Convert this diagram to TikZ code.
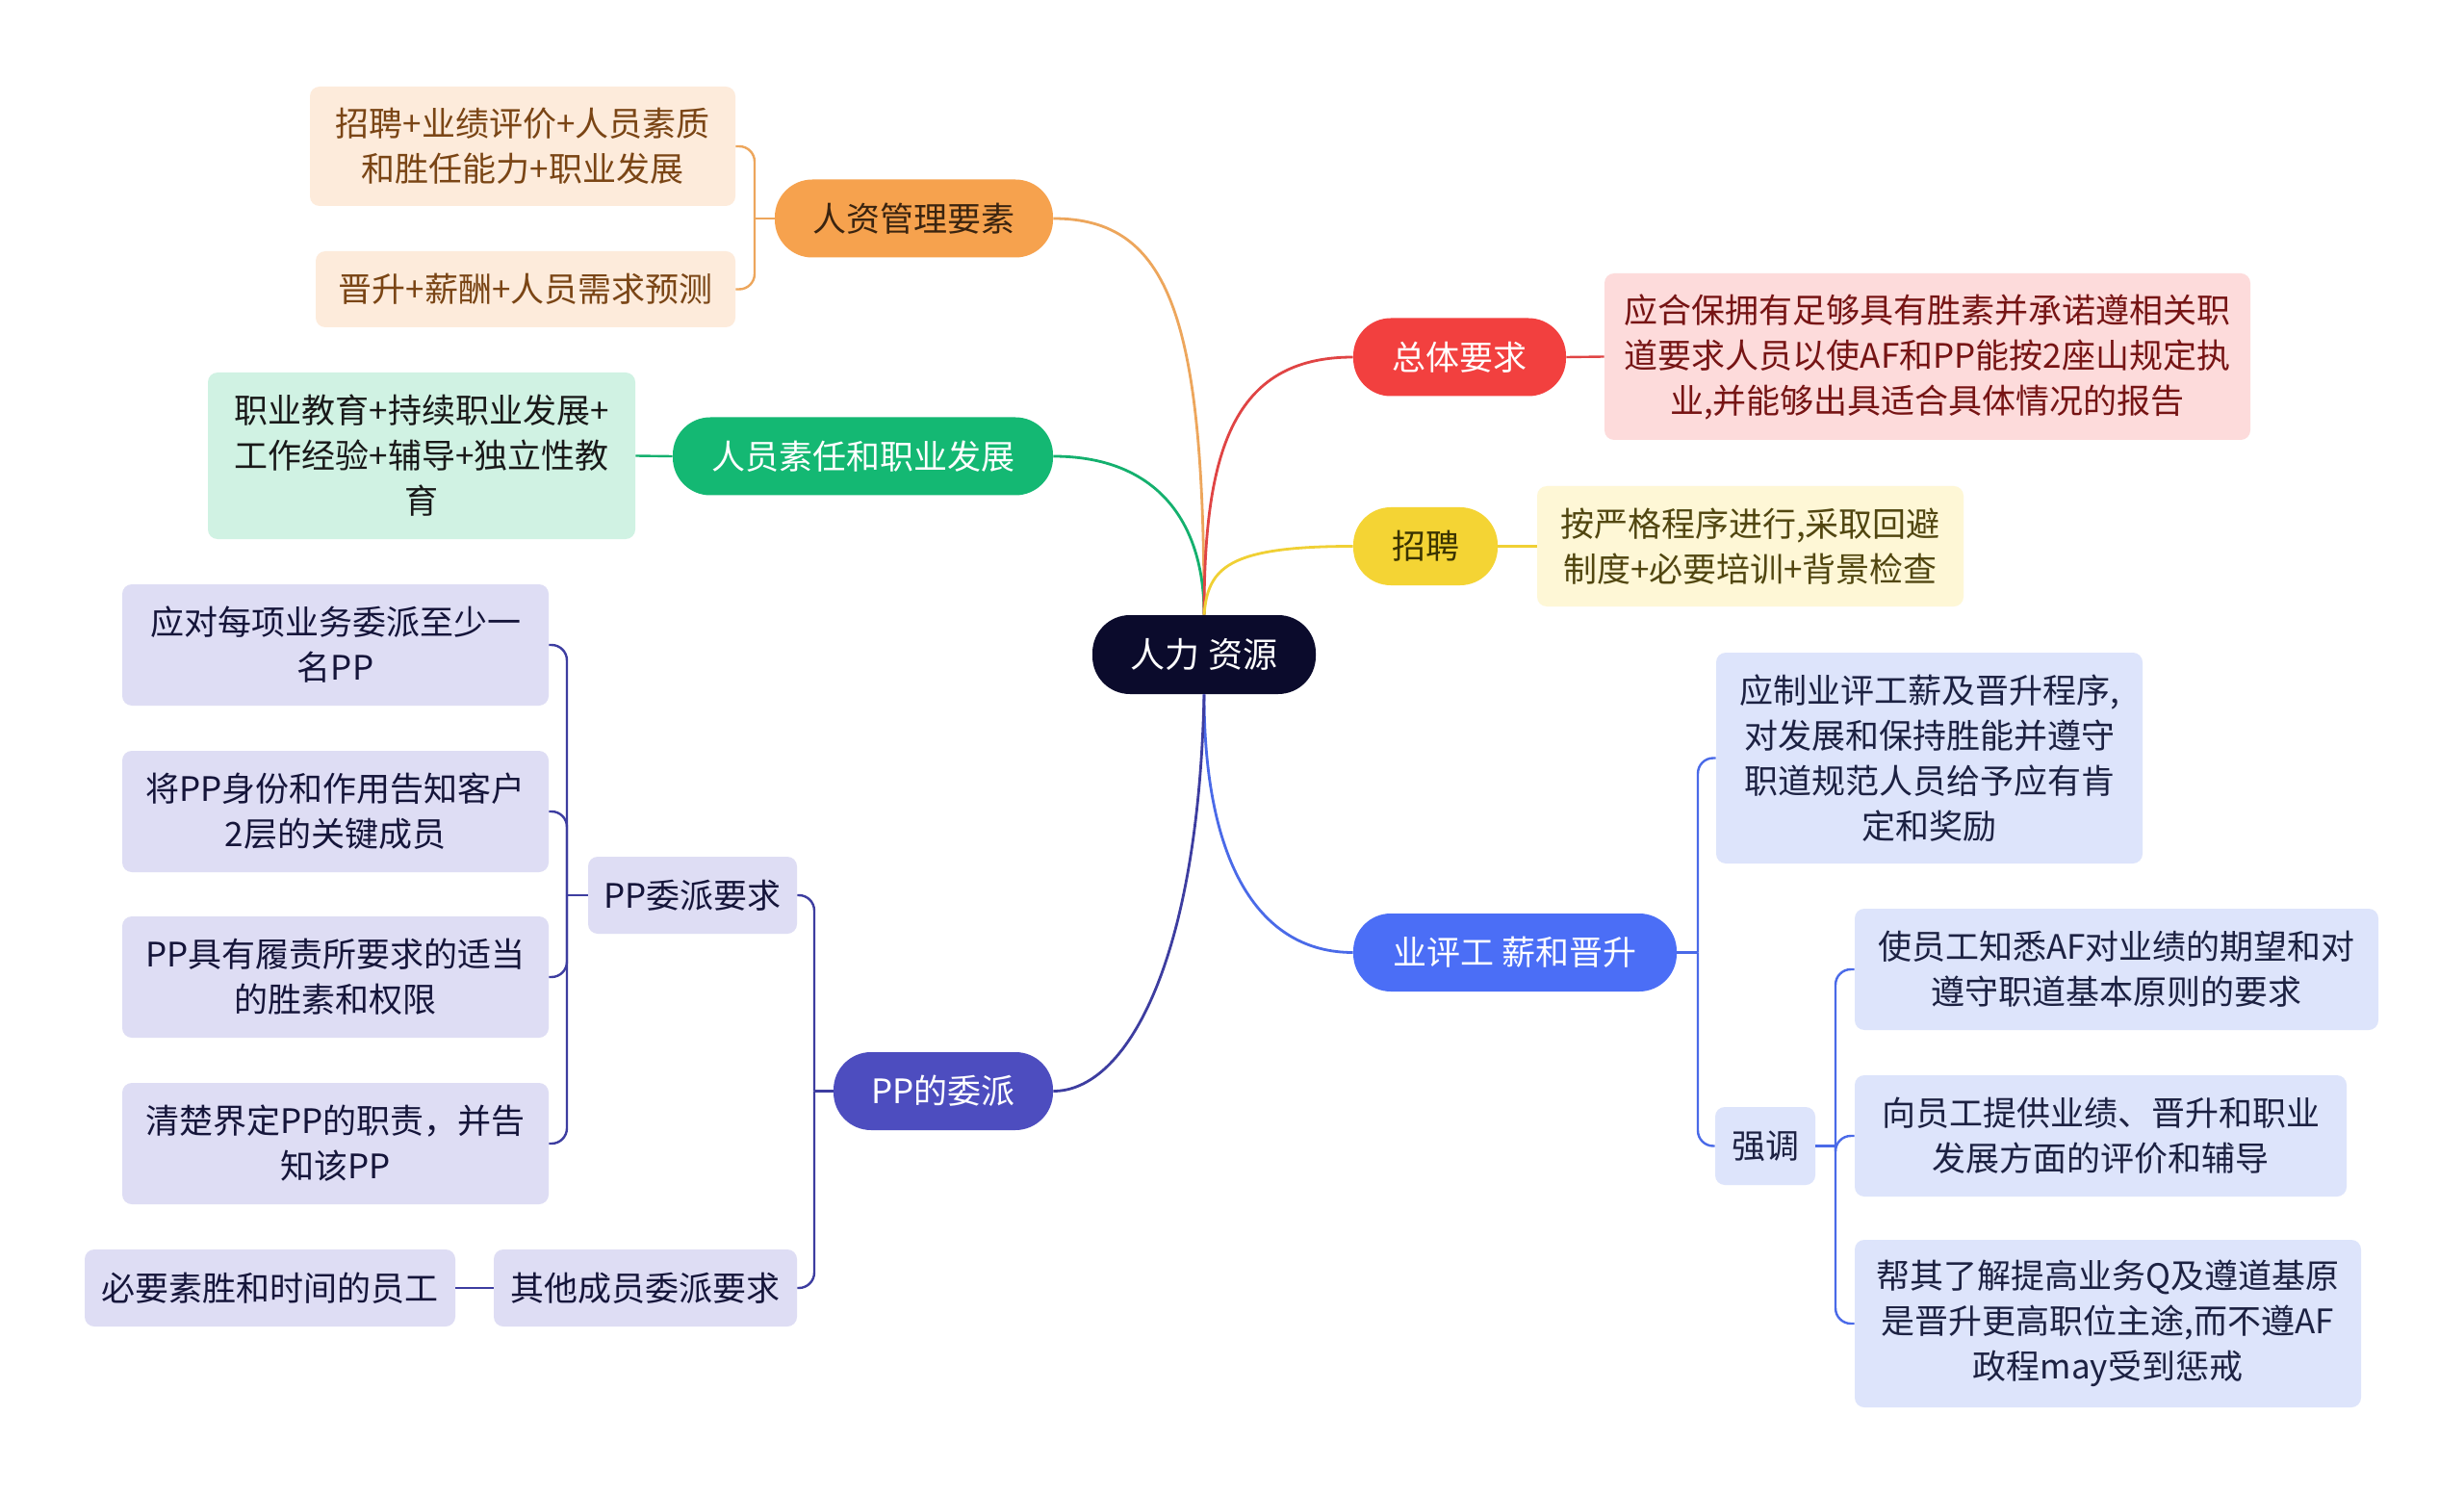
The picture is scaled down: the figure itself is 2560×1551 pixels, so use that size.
\documentclass[tikz,border=0pt]{standalone}
\usepackage{fontspec}
\setmainfont{Noto Sans CJK SC}
\definecolor{cnavy}{HTML}{0B0B2C}
\definecolor{corange}{HTML}{F6A24E}
\definecolor{corangeL}{HTML}{FDEBDB}
\definecolor{corangeLn}{HTML}{EDA65C}
\definecolor{cbrown}{HTML}{7A4515}
\definecolor{cbrownD}{HTML}{3A2410}
\definecolor{cgreen}{HTML}{14B873}
\definecolor{cgreenL}{HTML}{D0F2E3}
\definecolor{cgreenLn}{HTML}{14B06E}
\definecolor{cred}{HTML}{F2403F}
\definecolor{credL}{HTML}{FDDBDB}
\definecolor{credLn}{HTML}{E04444}
\definecolor{credT}{HTML}{761414}
\definecolor{cyel}{HTML}{F4D434}
\definecolor{cyelL}{HTML}{FEF7D6}
\definecolor{cyelLn}{HTML}{F0D034}
\definecolor{cyelT}{HTML}{3A3300}
\definecolor{cyelTL}{HTML}{514610}
\definecolor{cblue}{HTML}{4B6EF6}
\definecolor{cblueL}{HTML}{DDE4FB}
\definecolor{cblueLn}{HTML}{4A6AE8}
\definecolor{cblueT}{HTML}{1C2142}
\definecolor{cpur}{HTML}{4D4DBF}
\definecolor{cpurL}{HTML}{DEDDF4}
\definecolor{cpurLn}{HTML}{3D3DA0}
\definecolor{cpurT}{HTML}{15153A}
\begin{document}
\begin{tikzpicture}[x=0.5pt,y=-0.5pt,
  base/.style={font=\fontsize{17.5pt}{23.5pt}\selectfont, align=center, inner sep=0pt},
  pill/.style={base, rounded corners=19.5pt, minimum height=40.5pt},
  leaf/.style={base, rounded corners=5pt},
  curve/.style={line width=1.4pt},
  brk/.style={line width=1.2pt, rounded corners=8pt}]
\useasboundingbox[fill=white] (0,0) rectangle (2560,1551);

% centre
\node[pill, fill=cnavy, text=white, minimum width=116pt, minimum height=41pt, font=\fontsize{18pt}{23.5pt}\selectfont] (c) at (1251,680) {人力 资源};

% branches
\node[pill, fill=corange, text=cbrownD, minimum width=144.5pt] (hr) at (949.5,227) {人资管理要素};
\node[pill, fill=cgreen, text=white, minimum width=197.5pt] (comp) at (896.5,474) {人员素任和职业发展};
\node[pill, fill=cred, text=white, minimum width=110.5pt] (gen) at (1516.5,371) {总体要求};
\node[pill, fill=cyel, text=cyelT, minimum width=75pt] (rec) at (1481,567.5) {招聘};
\node[pill, fill=cblue, text=white, minimum width=168pt] (perf) at (1574,989.5) {业评工 薪和晋升};
\node[pill, fill=cpur, text=white, minimum width=114pt] (pp) at (980,1133.5) {PP的委派};

% orange leaves
\node[leaf, fill=corangeL, text=cbrown, minimum width=221pt, minimum height=62pt] (hr1) at (543,152) {招聘+业绩评价+人员素质\\和胜任能力+职业发展};
\node[leaf, fill=corangeL, text=cbrown, minimum width=218pt, minimum height=39.5pt] (hr2) at (546,300.5) {晋升+薪酬+人员需求预测};

% green leaf
\node[leaf, fill=cgreenL, text=black!90, minimum width=222pt, minimum height=86.5pt] (comp1) at (438,473.5) {职业教育+持续职业发展+\\工作经验+辅导+独立性教\\育};

% red leaf
\node[leaf, fill=credL, text=credT, minimum width=335.5pt, minimum height=86.5pt] (gen1) at (2002.5,370.5) {应合保拥有足够具有胜素并承诺遵相关职\\道要求人员以使AF和PP能按2座山规定执\\业,并能够出具适合具体情况的报告};

% yellow leaf
\node[leaf, fill=cyelL, text=cyelTL, minimum width=221.5pt, minimum height=62.5pt] (rec1) at (1818.5,567.5) {按严格程序进行,采取回避\\制度+必要培训+背景检查};

% blue leaves
\node[leaf, fill=cblueL, text=cblueT, minimum width=221.5pt, minimum height=109.5pt] (perf1) at (2004.5,787.5) {应制业评工薪及晋升程序,\\对发展和保持胜能并遵守\\职道规范人员给予应有肯\\定和奖励};
\node[leaf, fill=cblueL, text=cblueT, minimum width=52pt, minimum height=40.5pt] (emph) at (1834,1190.5) {强调};
\node[leaf, fill=cblueL, text=cblueT, minimum width=272pt, minimum height=63pt] (e1) at (2199,1007) {使员工知悉AF对业绩的期望和对\\遵守职道基本原则的要求};
\node[leaf, fill=cblueL, text=cblueT, minimum width=255.5pt, minimum height=63pt] (e2) at (2182.5,1180) {向员工提供业绩、晋升和职业\\发展方面的评价和辅导};
\node[leaf, fill=cblueL, text=cblueT, minimum width=263pt, minimum height=87pt] (e3) at (2190,1375) {帮其了解提高业务Q及遵道基原\\是晋升更高职位主途,而不遵AF\\政程may受到惩戒};

% purple leaves
\node[leaf, fill=cpurL, text=cpurT, minimum width=108.5pt, minimum height=40pt] (ppreq) at (719.5,930) {PP委派要求};
\node[leaf, fill=cpurL, text=cpurT, minimum width=221.5pt, minimum height=63pt] (p1) at (348.5,670) {应对每项业务委派至少一\\名PP};
\node[leaf, fill=cpurL, text=cpurT, minimum width=221.5pt, minimum height=63pt] (p2) at (348.5,843) {将PP身份和作用告知客户\\2层的关键成员};
\node[leaf, fill=cpurL, text=cpurT, minimum width=221.5pt, minimum height=63pt] (p3) at (348.5,1015) {PP具有履责所要求的适当\\的胜素和权限};
\node[leaf, fill=cpurL, text=cpurT, minimum width=221.5pt, minimum height=63pt] (p4) at (348.5,1188) {清楚界定PP的职责，并告\\知该PP};
\node[leaf, fill=cpurL, text=cpurT, minimum width=157.5pt, minimum height=40pt] (other) at (670.5,1338) {其他成员委派要求};
\node[leaf, fill=cpurL, text=cpurT, minimum width=192.5pt, minimum height=40pt] (other1) at (280.5,1338) {必要素胜和时间的员工};

% curves from centre
\draw[curve, corangeLn] (hr.east) .. controls (1215,227) and (1251,330) .. (c.north);
\draw[curve, cgreenLn] (comp.east) .. controls (1200,474) and (1251,540) .. (c.north);
\draw[curve, credLn] (c.north) .. controls (1251,470) and (1280,371) .. (gen.west);
\draw[curve, cyelLn] (c.north) .. controls (1255,590) and (1275,567.5) .. (rec.west);
\draw[curve, cblueLn] (c.south) .. controls (1251,900) and (1310,989.5) .. (perf.west);
\draw[curve, cpurLn] (c.south) .. controls (1245,1000) and (1170,1133.5) .. (pp.east);

% straight links
\draw[brk, cgreenLn] (comp.west) -- (comp1.east);
\draw[brk, credLn] (gen.east) -- (gen1.west);
\draw[brk, cyelLn] (rec.east) -- (rec1.west);
\draw[brk, cpurLn] (other.west) -- (other1.east);

% brackets
\coordinate (hrb) at (784,227);
\draw[brk, corangeLn] (hr.west) -- (hrb);
\draw[brk, corangeLn] (hrb) |- (hr1.east);
\draw[brk, corangeLn] (hrb) |- (hr2.east);

\coordinate (perfb) at (1764,989.5);
\draw[brk, cblueLn] (perf.east) -- (perfb);
\draw[brk, cblueLn] (perfb) |- (perf1.west);
\draw[brk, cblueLn] (perfb) |- (emph.west);

\coordinate (emb) at (1907,1190.5);
\draw[brk, cblueLn] (emph.east) -- (emb);
\draw[brk, cblueLn] (emb) |- (e1.west);
\draw[brk, cblueLn] (emb) |- (e2.west);
\draw[brk, cblueLn] (emb) |- (e3.west);

\coordinate (ppb) at (846,1133.5);
\draw[brk, cpurLn] (pp.west) -- (ppb);
\draw[brk, cpurLn] (ppb) |- (ppreq.east);
\draw[brk, cpurLn] (ppb) |- (other.east);

\coordinate (prb) at (589,930);
\draw[brk, cpurLn] (ppreq.west) -- (prb);
\draw[brk, cpurLn] (prb) |- (p1.east);
\draw[brk, cpurLn] (prb) |- (p2.east);
\draw[brk, cpurLn] (prb) |- (p3.east);
\draw[brk, cpurLn] (prb) |- (p4.east);
\end{tikzpicture}
\end{document}
